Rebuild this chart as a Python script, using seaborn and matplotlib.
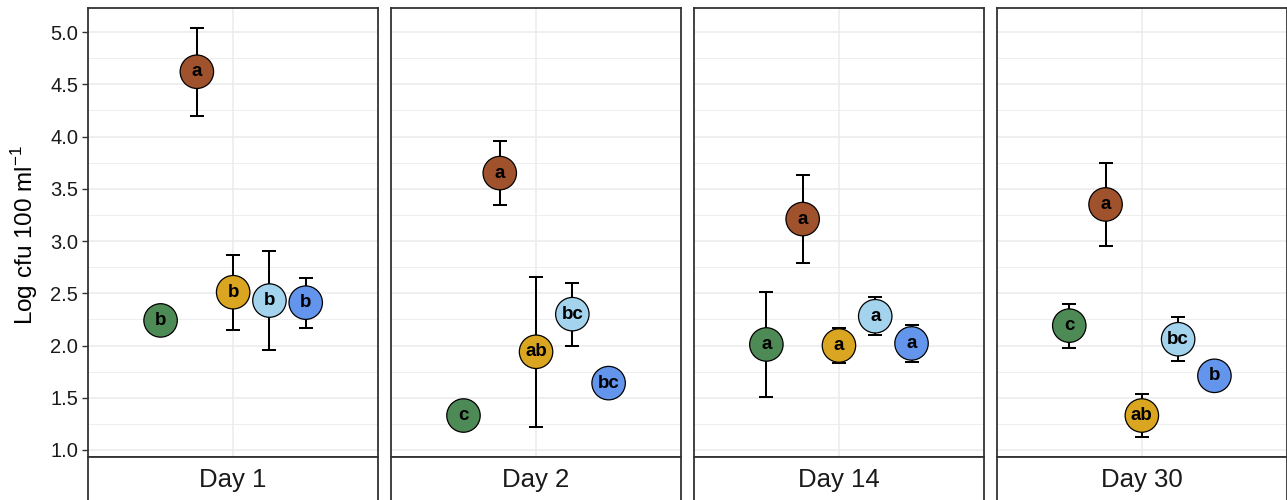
import matplotlib
matplotlib.use("Agg")
import matplotlib.pyplot as plt
from matplotlib.ticker import MultipleLocator
import numpy as np
import pandas as pd
import seaborn as sns

# ---- data ----
days = ["Day 1", "Day 2", "Day 14", "Day 30"]
treatments = ["T1", "T2", "T3", "T4", "T5"]
palette = ["#4e8a55", "#a0522d", "#daa520", "#a4d3ee", "#6495ed"]

mean_day1 = [2.24, 4.62, 2.51, 2.43, 2.41]
se_day1 = [0.08, 0.42, 0.36, 0.47, 0.24]
letters_day1 = ["b", "a", "b", "b", "b"]

mean_day2 = [1.33, 3.65, 1.94, 2.30, 1.64]
se_day2 = [0.10, 0.31, 0.72, 0.30, 0.10]
letters_day2 = ["c", "a", "ab", "bc", "bc"]

mean_day14 = [2.01, 3.21, 2.00, 2.28, 2.02]
se_day14 = [0.50, 0.42, 0.17, 0.18, 0.18]
letters_day14 = ["a", "a", "a", "a", "a"]

mean_day30 = [2.19, 3.35, 1.33, 2.06, 1.71]
se_day30 = [0.21, 0.40, 0.21, 0.21, 0.10]
letters_day30 = ["c", "a", "ab", "bc", "b"]

means = [mean_day1, mean_day2, mean_day14, mean_day30]
ses = [se_day1, se_day2, se_day14, se_day30]
letters = [letters_day1, letters_day2, letters_day14, letters_day30]

rows = []
for d, m, s, l in zip(days, means, ses, letters):
    for t, mv, sv, lv in zip(treatments, m, s, l):
        rows.append(dict(day=d, treatment=t, mean=mv, se=sv, letter=lv))
df = pd.DataFrame(rows)

# ---- style ----
sns.set_theme(style="white")
plt.rcParams["font.family"] = ["Liberation Sans", "DejaVu Sans"]
plt.rcParams["mathtext.fontset"] = "custom"
plt.rcParams["mathtext.rm"] = "Liberation Sans"

W, H = 1287, 500
fig = plt.figure(figsize=(W / 100, H / 100), dpi=100)

left0, pw, gap = 88, 290.3, 12.6
top, bottom, strip_bottom = 8, 457, 503
dodge = 0.15
offsets = {t: (i - 2) * dodge for i, t in enumerate(treatments)}
color_map = dict(zip(treatments, palette))
border = "#333333"

for k, day in enumerate(days):
    x0 = left0 + k * (pw + gap)
    ax = fig.add_axes([x0 / W, 1 - bottom / H, pw / W, (bottom - top) / H])
    sub = df[df.day == day].copy()
    sub["x"] = sub.treatment.map(offsets)

    ax.set_xlim(-0.6, 0.6)
    ax.set_ylim(0.933, 5.23)
    ax.yaxis.set_major_locator(MultipleLocator(0.5))
    ax.yaxis.set_minor_locator(MultipleLocator(0.25))
    ax.set_xticks([0])
    ax.grid(which="major", axis="both", color="#ebebeb", lw=1.1, zorder=0)
    ax.grid(which="minor", axis="y", color="#ebebeb", lw=0.6, zorder=0)
    ax.set_axisbelow(True)

    ax.errorbar(sub["x"], sub["mean"], yerr=sub["se"], fmt="none",
                ecolor="black", elinewidth=1.45, capsize=5, capthick=1.45, zorder=2)
    sns.scatterplot(data=sub, x="x", y="mean", hue="treatment",
                    palette=color_map, s=580, edgecolor="black", linewidth=0.9,
                    legend=False, ax=ax, zorder=3)
    for _, r in sub.iterrows():
        ax.text(r["x"], r["mean"], r["letter"], ha="center", va="center",
                fontsize=13.5, fontweight="bold", color="black", zorder=4)

    ax.set_xlabel("")
    ax.tick_params(axis="x", length=0, labelbottom=False)
    if k == 0:
        ax.set_ylabel("Log cfu 100 ml$^{-1}$", fontsize=17.5, color="black")
        ax.yaxis.set_label_coords(-0.165, 0.495)
        ax.tick_params(axis="y", which="major", left=True, length=4, width=1,
                       color=border, labelsize=14.5, labelcolor="#1a1a1a", pad=3)
        ax.tick_params(axis="y", which="minor", left=False)
    else:
        ax.set_ylabel("")
        ax.tick_params(axis="y", which="both", left=False, labelleft=False)
    for sp in ax.spines.values():
        sp.set_color(border)
        sp.set_linewidth(1.3)

    # facet strip below the panel
    sax = fig.add_axes([x0 / W, 1 - strip_bottom / H, pw / W, (strip_bottom - bottom) / H])
    sax.set_xticks([])
    sax.set_yticks([])
    sax.set_facecolor("white")
    for sp in sax.spines.values():
        sp.set_color(border)
        sp.set_linewidth(1.3)
    sax.text(0.5, 1 - 23 / (strip_bottom - bottom), day, transform=sax.transAxes,
             ha="center", va="center", fontsize=18.5, color="#1a1a1a")

fig.savefig("out.png", dpi=100)
